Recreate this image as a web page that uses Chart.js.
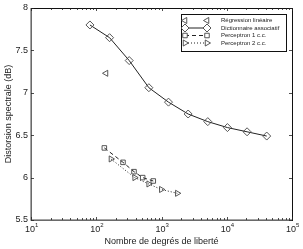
<!DOCTYPE html>
<html>
<head>
<meta charset="utf-8">
<script src="https://cdn.jsdelivr.net/npm/chart.js@4"></script>
<style>
  html, body { margin: 0; padding: 0; background: #fff; }
  #wrap { width: 303px; height: 249px; }
</style>
</head>
<body>
<div id="wrap"><canvas id="distChart" width="303" height="249"></canvas></div>
<script>
// values
const dofDict = [80, 160, 320, 640, 1280, 2560, 5120, 10240, 20480, 40960];
const distDict = [7.80, 7.65, 7.38, 7.06, 6.89, 6.75, 6.66, 6.59, 6.54, 6.49];
const dofReg = [141];
const distReg = [7.23];
const dofP1 = [133, 257, 379, 515, 748];
const distP1 = [6.35, 6.18, 6.07, 6.00, 5.96];
const dofP2 = [168, 388, 636, 993, 1747];
const distP2 = [6.22, 6.00, 5.925, 5.86, 5.815];
const yTicks = [5.5, 6, 6.5, 7, 7.5, 8];
const xDecades = [1, 2, 3, 4, 5];
const seriesNames = ["Régression linéaire", "Dictionnaire associatif", "Perceptron 1 c.c.", "Perceptron 2 c.c."];

const FONT = "Liberation Sans, Arial, sans-serif";
const toPts = (xs, ys) => xs.map((x, i) => ({ x: x, y: ys[i] }));

const markerBase = {
  pointRadius: 3.5,
  pointBorderWidth: 0.9,
  pointBorderColor: "#444",
  pointBackgroundColor: "rgba(0,0,0,0)",
  borderColor: "#222",
  borderWidth: 1,
};

const datasets = [
  { ...markerBase, label: seriesNames[0], data: toPts(dofReg, distReg), showLine: false,
    pointStyle: "triangle", pointRotation: -90 },
  { ...markerBase, label: seriesNames[1], data: toPts(dofDict, distDict),
    pointStyle: "rectRot", pointRadius: 4 },
  { ...markerBase, label: seriesNames[2], data: toPts(dofP1, distP1),
    pointStyle: "rect", pointRadius: 3.2, borderDash: [4, 3] },
  { ...markerBase, label: seriesNames[3], data: toPts(dofP2, distP2),
    pointStyle: "triangle", pointRotation: 90, borderDash: [1, 2] },
];

// axes box, inside ticks, labels and the legend, matlab style
const matlabAxes = {
  id: "matlabAxes",
  afterDraw(chart) {
    const ctx = chart.ctx;
    const xs = chart.scales.x, ys = chart.scales.y;
    const a = chart.chartArea;
    ctx.save();

    // box
    ctx.strokeStyle = "#111";
    ctx.lineWidth = 1;
    ctx.strokeRect(a.left + 0.5, a.top + 0.5, a.right - a.left, a.bottom - a.top);
    ctx.strokeStyle = "#888";
    ctx.lineWidth = 1.5;
    ctx.beginPath();
    ctx.moveTo(a.left, a.top); ctx.lineTo(a.left, a.bottom); ctx.lineTo(a.right, a.bottom);
    ctx.stroke();

    // x ticks (major + minor), bottom and top
    ctx.strokeStyle = "#222";
    ctx.lineWidth = 0.8;
    ctx.beginPath();
    for (let d = 1; d <= 5; d++) {
      for (let m = 1; m <= 9; m++) {
        const v = m * Math.pow(10, d);
        if (v > 1e5) break;
        const px = Math.round(xs.getPixelForValue(v)) + 0.5;
        const len = m === 1 ? 3 : 2;
        ctx.moveTo(px, a.bottom); ctx.lineTo(px, a.bottom - len);
        ctx.moveTo(px, a.top); ctx.lineTo(px, a.top + len);
      }
    }
    yTicks.forEach(v => {
      const py = Math.round(ys.getPixelForValue(v)) + 0.5;
      ctx.moveTo(a.left, py); ctx.lineTo(a.left + 3, py);
      ctx.moveTo(a.right, py); ctx.lineTo(a.right - 3, py);
    });
    ctx.stroke();

    // y tick labels
    ctx.fillStyle = "#222";
    ctx.font = "9px " + FONT;
    ctx.textAlign = "right";
    ctx.textBaseline = "middle";
    yTicks.forEach(v => {
      ctx.fillText(String(v), a.left - 3, ys.getPixelForValue(v));
    });

    // x tick labels 10^n
    xDecades.forEach(n => {
      const px = xs.getPixelForValue(Math.pow(10, n));
      ctx.font = "9px " + FONT;
      ctx.textAlign = "center";
      ctx.textBaseline = "alphabetic";
      ctx.fillText("10", px - 1, a.bottom + 12);
      ctx.font = "6px " + FONT;
      ctx.textAlign = "left";
      ctx.fillText(String(n), px + 4, a.bottom + 7);
    });

    // axis titles
    ctx.font = "9px " + FONT;
    ctx.textAlign = "center";
    ctx.textBaseline = "alphabetic";
    ctx.fillText("Nombre de degrés de liberté", (a.left + a.right) / 2, a.bottom + 24);
    ctx.save();
    ctx.translate(9, (a.top + a.bottom) / 2);
    ctx.rotate(-Math.PI / 2);
    ctx.textBaseline = "middle";
    ctx.fillText("Distorsion spectrale (dB)", 0, 0);
    ctx.restore();

    // legend box
    const lx = 181, ly = 14, lw = 105, lh = 37;
    ctx.fillStyle = "#fff";
    ctx.fillRect(lx, ly, lw, lh);
    ctx.strokeStyle = "#111";
    ctx.lineWidth = 1;
    ctx.strokeRect(lx + 0.5, ly + 0.5, lw, lh);
    const rowsY = [20.5, 28, 35.5, 43];
    chart.data.datasets.forEach((ds, i) => {
      const y = rowsY[i];
      if (ds.showLine !== false) {
        ctx.strokeStyle = "#222";
        ctx.lineWidth = 1;
        ctx.setLineDash(ds.borderDash || []);
        ctx.beginPath();
        ctx.moveTo(185, y); ctx.lineTo(207, y);
        ctx.stroke();
        ctx.setLineDash([]);
      }
      [185, 207].forEach(mx => {
        ctx.strokeStyle = "#444";
        ctx.fillStyle = "#fff";
        ctx.lineWidth = 0.9;
        Chart.helpers.drawPoint(ctx, {
          pointStyle: ds.pointStyle, rotation: ds.pointRotation || 0,
          radius: ds.pointRadius, borderWidth: 0.9,
        }, mx, y);
      });
      ctx.fillStyle = "#222";
      ctx.font = "6px " + FONT;
      ctx.textAlign = "left";
      ctx.textBaseline = "middle";
      ctx.fillText(ds.label, 221, y);
    });
    ctx.restore();
  },
};

new Chart(document.getElementById("distChart"), {
  type: "line",
  data: { datasets: datasets },
  options: {
    responsive: false,
    animation: false,
    layout: { padding: { top: 8, right: 11, left: 0, bottom: 0 } },
    plugins: { legend: { display: false }, tooltip: { enabled: false } },
    elements: { line: { tension: 0 } },
    scales: {
      x: {
        type: "logarithmic", min: 10, max: 100000,
        grid: { display: false }, border: { display: false },
        ticks: { display: false },
        afterFit: (s) => { s.height = 29; },
      },
      y: {
        type: "linear", min: 5.5, max: 8,
        grid: { display: false }, border: { display: false },
        ticks: { display: false },
        afterFit: (s) => { s.width = 31; },
      },
    },
  },
  plugins: [matlabAxes],
});
</script>
</body>
</html>
